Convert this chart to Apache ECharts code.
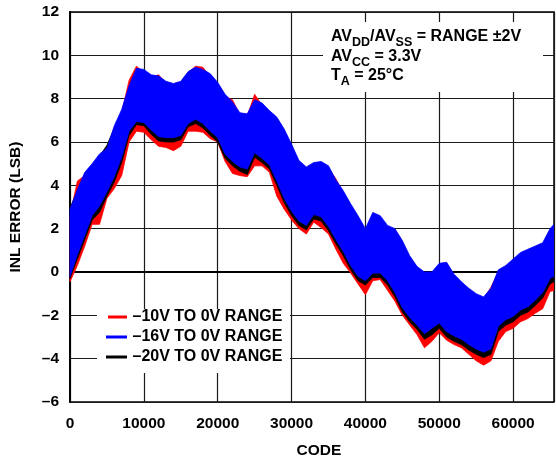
<!DOCTYPE html>
<html>
<head>
<meta charset="utf-8">
<script src="https://cdn.jsdelivr.net/npm/echarts@6/dist/echarts.min.js"></script>
<style>
html,body{margin:0;padding:0;background:#fff;}
#chart{width:556px;height:464px;}
</style>
</head>
<body>
<div id="chart"></div>
<script>
// Codes (x)
const codes = [0,1000,2000,3000,4000,5000,6000,7000,8000,9000,10000,11000,12000,13000,14000,15000,16000,17000,18000,19000,20000,21000,22000,23000,24000,25000,26000,27000,28000,29000,30000,31000,32000,33000,34000,35000,36000,37000,38000,39000,40000,41000,42000,43000,44000,45000,46000,47000,48000,49000,50000,51000,52000,53000,54000,55000,56000,57000,58000,59000,60000,61000,62000,63000,64000,65000,65535];

// -10V to 0V range (red): band upper / lower
const redUpper = [2.6,4.2,4.45,4.85,5.3,5.55,6.6,7.35,8.85,9.5,9.2,9.0,9.1,8.7,8.6,8.7,9.2,9.5,9.45,9.0,8.6,8.1,7.95,7.25,7.2,8.2,7.7,7.35,7.05,6.45,5.8,5.05,4.75,4.95,5.0,4.8,4.3,3.65,3.05,2.5,1.9,2.65,2.5,2.05,1.9,1.35,0.65,0.2,-0.1,-0.1,0.3,0.35,-0.2,-0.55,-0.85,-1.1,-1.25,-0.7,0.0,0.2,0.5,0.8,0.95,1.1,1.25,1.9,2.1];
const redLower = [-0.45,0.3,1.2,2.2,2.2,3.4,3.85,4.45,6.0,6.5,6.45,6.1,5.8,5.75,5.6,5.8,6.5,6.5,6.45,6.15,6.0,5.1,4.55,4.45,4.4,4.9,4.9,4.6,3.5,2.9,2.4,2.0,1.75,2.3,2.05,1.75,1.05,0.4,-0.05,-0.55,-1.05,-0.4,-0.35,-0.85,-1.35,-2.0,-2.45,-2.9,-3.5,-3.2,-2.8,-3.15,-3.35,-3.5,-3.8,-4.1,-4.3,-4.1,-3.2,-2.75,-2.6,-2.3,-2.15,-1.9,-1.7,-0.9,-0.85];

// -20V to 0V range (black): band upper / lower
const blackUpper = [2.95,3.75,4.5,4.9,5.35,5.85,6.65,7.4,8.5,9.3,9.25,9.0,9.0,8.7,8.6,8.7,9.15,9.35,9.25,9.05,8.65,8.1,7.75,7.25,7.2,7.85,7.7,7.35,7.05,6.5,5.8,5.05,4.75,4.95,5.0,4.8,4.15,3.65,3.05,2.5,1.9,2.65,2.5,2.05,1.9,1.35,0.65,0.15,-0.1,-0.1,0.3,0.35,-0.2,-0.55,-0.85,-1.1,-1.25,-0.85,0.0,0.2,0.5,0.8,0.95,1.1,1.25,1.9,2.1];
const blackLower = [-0.3,0.6,1.5,2.4,2.75,3.5,4.15,5.05,6.3,6.8,6.75,6.35,6.05,6.0,6.0,6.1,6.7,6.85,6.65,6.3,6.0,5.25,4.9,4.65,4.5,5.3,5.05,4.75,4.0,3.2,2.6,2.15,1.95,2.45,2.35,1.9,1.3,0.75,0.1,-0.4,-0.6,-0.25,-0.25,-0.6,-1.15,-1.85,-2.3,-2.65,-3.1,-2.9,-2.6,-3.0,-3.2,-3.35,-3.6,-3.8,-3.95,-3.8,-2.75,-2.45,-2.3,-2.0,-1.85,-1.55,-1.2,-0.55,-0.45];

// -16V to 0V range (blue): band upper / lower
const blueUpper = [2.9,3.8,4.6,5.0,5.45,5.7,6.75,7.5,8.6,9.4,9.35,9.1,9.05,8.8,8.7,8.8,9.25,9.45,9.35,9.15,8.75,8.2,7.85,7.35,7.3,7.95,7.8,7.45,7.15,6.6,5.9,5.15,4.85,5.05,5.1,4.9,4.25,3.75,3.15,2.6,2.0,2.75,2.6,2.15,2.0,1.45,0.75,0.25,0.0,0.0,0.4,0.45,-0.1,-0.45,-0.75,-1.0,-1.15,-0.75,0.1,0.3,0.6,0.9,1.05,1.2,1.35,2.0,2.2];
const blueLower = [-0.2,0.8,1.7,2.6,3.05,3.7,4.4,5.3,6.5,6.95,6.9,6.55,6.25,6.2,6.2,6.3,6.85,7.05,6.85,6.5,6.2,5.45,5.1,4.85,4.75,5.5,5.25,4.95,4.2,3.4,2.8,2.35,2.15,2.65,2.55,2.1,1.5,0.95,0.3,-0.2,-0.4,-0.05,-0.05,-0.4,-0.95,-1.65,-2.1,-2.45,-2.85,-2.6,-2.35,-2.75,-2.95,-3.1,-3.35,-3.55,-3.7,-3.55,-2.5,-2.2,-2.05,-1.75,-1.6,-1.3,-0.95,-0.3,-0.2];

const xTickLabels = ['0','10000','20000','30000','40000','50000','60000'];
const seriesNames = ['\u201310V TO 0V RANGE', '\u201316V TO 0V RANGE', '\u201320V TO 0V RANGE'];
const seriesColors = ['#ff0000', '#0000ff', '#000000'];
const FONT = 'Liberation Sans, Arial, Helvetica, sans-serif';

function bandSeries(name, color, upper, lower) {
  return {
    name: name, type: 'custom', coordinateSystem: 'cartesian2d',
    silent: true, clip: true,
    itemStyle: { color: color },
    data: [[codes[0], lower[0]]],
    renderItem: function (params, api) {
      const pts = [];
      for (let i = 0; i < codes.length; i++) pts.push(api.coord([codes[i], upper[i]]));
      for (let i = codes.length - 1; i >= 0; i--) pts.push(api.coord([codes[i], lower[i]]));
      return {
        type: 'polygon',
        shape: { points: pts },
        style: { fill: color, stroke: color, lineWidth: 0.8 }
      };
    }
  };
}

// Legend drawn as graphic elements (white box with line keys)
const legendGraphics = [
  { type: 'rect', z: 100, shape: { x: 97, y: 309, width: 193, height: 64 }, style: { fill: '#fff' } }
];
seriesNames.forEach((name, i) => {
  const cy = 317 + i * 20;
  legendGraphics.push({
    type: 'rect', z: 101,
    shape: { x: i === 0 ? 108 : 106, y: cy - 1.5, width: i === 0 ? 19 : 21, height: 3 },
    style: { fill: seriesColors[i] }
  });
  legendGraphics.push({
    type: 'text', z: 101, x: 132.5, y: cy,
    style: { text: name, fontSize: 16, fontWeight: 'bold', fontFamily: FONT, fill: '#000', verticalAlign: 'middle' }
  });
});

const chart = echarts.init(document.getElementById('chart'), null, { renderer: 'canvas' });

const richStyles = {
  n: { fontSize: 16, fontWeight: 'bold', fontFamily: FONT, fill: '#000', lineHeight: 16 },
  s: { fontSize: 12.5, fontWeight: 'bold', fontFamily: FONT, fill: '#000', lineHeight: 25, verticalAlign: 'bottom' }
};

const option = {
  animation: false,
  backgroundColor: '#fff',
  textStyle: { fontFamily: FONT },
  grid: { left: 69, right: 2, top: 12, bottom: 60, show: true, borderColor: '#000', borderWidth: 1.5, containLabel: false },
  xAxis: {
    type: 'value', min: 0, max: 65535, interval: 10000,
    name: 'CODE', nameLocation: 'middle', nameGap: 41,
    nameTextStyle: { fontSize: 15.5, fontWeight: 'bold', color: '#000', fontFamily: FONT, padding: [0, 0, 0, 14] },
    axisLine: { show: true, lineStyle: { color: '#000', width: 2 } },
    axisTick: { show: false },
    axisLabel: {
      fontSize: 15.5, fontWeight: 'bold', color: '#000', fontFamily: FONT, margin: 14, showMaxLabel: false,
      formatter: v => xTickLabels[Math.round(v / 10000)] || ''
    },
    splitLine: { show: true, lineStyle: { color: '#1a1a1a', width: 1.2 } }
  },
  yAxis: {
    type: 'value', min: -6, max: 12, interval: 2,
    name: 'INL ERROR (LSB)', nameLocation: 'middle', nameGap: 46,
    nameTextStyle: { fontSize: 15.5, fontWeight: 'bold', color: '#000', fontFamily: FONT },
    axisLine: { show: true, lineStyle: { color: '#000', width: 2 } },
    axisTick: { show: false },
    axisLabel: {
      fontSize: 15.5, fontWeight: 'bold', color: '#000', fontFamily: FONT, margin: 11,
      formatter: v => (v < 0 ? '\u2013' + Math.abs(v) : String(v))
    },
    splitLine: { show: true, lineStyle: { color: '#1a1a1a', width: 1.2 } }
  },
  graphic: legendGraphics.concat([
    { type: 'rect', z: 100, shape: { x: 323, y: 22, width: 220, height: 70 }, style: { fill: '#fff' } },
    {
      type: 'text', z: 101, x: 331, y: 37,
      style: { text: '{n|AV}{s|DD}{n|/AV}{s|SS}{n| = RANGE \u00b12V}', verticalAlign: 'middle', rich: richStyles }
    },
    {
      type: 'text', z: 101, x: 331, y: 56.5,
      style: { text: '{n|AV}{s|CC}{n| = 3.3V}', verticalAlign: 'middle', rich: richStyles }
    },
    {
      type: 'text', z: 101, x: 331, y: 76,
      style: { text: '{n|T}{s|A}{n| = 25\u00b0C}', verticalAlign: 'middle', rich: richStyles }
    }
  ]),
  series: [
    bandSeries(seriesNames[0], seriesColors[0], redUpper, redLower),
    bandSeries(seriesNames[2], seriesColors[2], blackUpper, blackLower),
    bandSeries(seriesNames[1], seriesColors[1], blueUpper, blueLower)
  ]
};

chart.setOption(option);
</script>
</body>
</html>
